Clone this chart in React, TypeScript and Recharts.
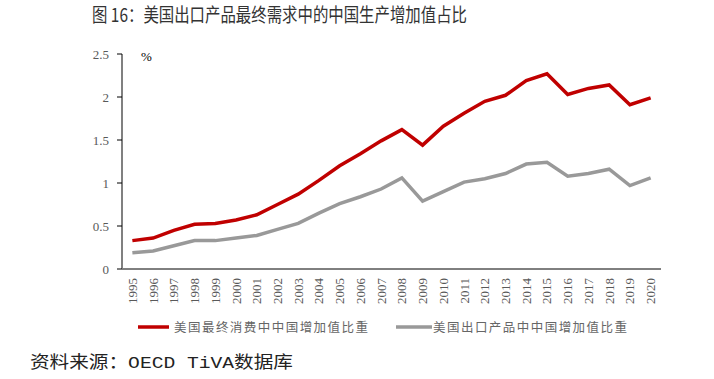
import React from 'react';
import { LineChart, Line, XAxis, YAxis } from 'recharts';

const years = ['1995','1996','1997','1998','1999','2000','2001','2002','2003','2004','2005','2006','2007','2008','2009','2010','2011','2012','2013','2014','2015','2016','2017','2018','2019','2020'];
const consumptionShare = [0.33,0.36,0.45,0.52,0.53,0.57,0.63,0.75,0.87,1.03,1.2,1.34,1.49,1.62,1.44,1.66,1.81,1.95,2.02,2.19,2.27,2.03,2.1,2.14,1.91,1.99];
const exportShare = [0.19,0.21,0.27,0.33,0.33,0.36,0.39,0.46,0.53,0.65,0.76,0.84,0.93,1.06,0.79,0.9,1.01,1.05,1.11,1.22,1.24,1.08,1.11,1.16,0.97,1.06];
const yTicks = [0, 0.5, 1, 1.5, 2, 2.5];
const seriesNames = ['美国最终消费中中国增加值比重', '美国出口产品中中国增加值比重'];
const seriesColors = ['#C00000', '#999999'];
const titleText = '图 16：美国出口产品最终需求中的中国生产增加值占比';
const sourceText = '资料来源：OECD TiVA数据库';

const data = years.map((y, i) => ({ i, year: y, consumption: consumptionShare[i], exports: exportShare[i] }));
const labelTicks = years.map((_, i) => i);
const boundaryTicks = [...years.map((_, i) => i - 0.5), years.length - 0.5];
const xDomain: [number, number] = [-0.5, years.length - 0.5];

const serif = '"Liberation Serif", "Times New Roman", serif';
const cjk = '"Noto Sans CJK SC", sans-serif';

const YearTick = (props: any) => {
  const { x, y, payload } = props;
  return (
    <text x={x} y={y} transform={`rotate(-90 ${x} ${y})`} textAnchor="end" dominantBaseline="central"
      fontFamily={serif} fontSize={13} fill="#595959">
      {years[payload.value]}
    </text>
  );
};

export default function App() {
  return (
    <div style={{ position: 'absolute', left: 0, top: 0, width: 714, height: 379, background: '#fff' }}>
      <LineChart width={714} height={379} data={data} margin={{ top: 54, right: 53, left: 62, bottom: 70 }}>
        <XAxis xAxisId="bounds" dataKey="i" type="number" domain={xDomain} ticks={boundaryTicks}
          tick={false} tickSize={4} tickLine={{ stroke: '#000', strokeWidth: 1 }} axisLine={false} height={0} allowDataOverflow />
        <XAxis xAxisId="labels" dataKey="i" type="number" domain={xDomain} ticks={labelTicks} interval={0}
          tick={<YearTick />} tickLine={false} tickSize={4} tickMargin={5} axisLine={{ stroke: '#000', strokeWidth: 1 }} height={40} allowDataOverflow />
        <YAxis domain={[0, 2.5]} ticks={yTicks} width={60} tickSize={5} tickMargin={8}
          axisLine={{ stroke: '#808080', strokeWidth: 2 }} tickLine={{ stroke: '#000' }}
          tick={{ fontFamily: serif, fontSize: 13, fill: '#595959' }} />
        <Line xAxisId="labels" dataKey="consumption" stroke={seriesColors[0]} strokeWidth={3.5} dot={false} isAnimationActive={false} />
        <Line xAxisId="labels" dataKey="exports" stroke={seriesColors[1]} strokeWidth={3.5} dot={false} isAnimationActive={false} />
      </LineChart>
      <svg width={714} height={379} style={{ position: 'absolute', left: 0, top: 0, pointerEvents: 'none' }}>
        <text x={92} y={22} textLength={375} lengthAdjust="spacingAndGlyphs" fontFamily={cjk}
          fontSize={19} fontWeight={400} fill="#333">{titleText}</text>
        <text x={141} y={61} fontFamily={serif} fontSize={13} fill="#000">%</text>
        <line x1={138} x2={169} y1={327} y2={327} stroke={seriesColors[0]} strokeWidth={3.5} />
        <text x={174} y={332} textLength={194} lengthAdjust="spacing" fontFamily={cjk}
          fontSize={12.5} fill="#666">{seriesNames[0]}</text>
        <line x1={396} x2={432} y1={327} y2={327} stroke={seriesColors[1]} strokeWidth={3.5} />
        <text x={433} y={332} textLength={194} lengthAdjust="spacing" fontFamily={cjk}
          fontSize={12.5} fill="#666">{seriesNames[1]}</text>
        <text x={30} y={368} textLength={263} lengthAdjust="spacingAndGlyphs" fontFamily='"Liberation Mono", "Noto Sans CJK SC", monospace'
          fontSize={17} fontWeight={400} fill="#222">{sourceText}</text>
      </svg>
    </div>
  );
}
